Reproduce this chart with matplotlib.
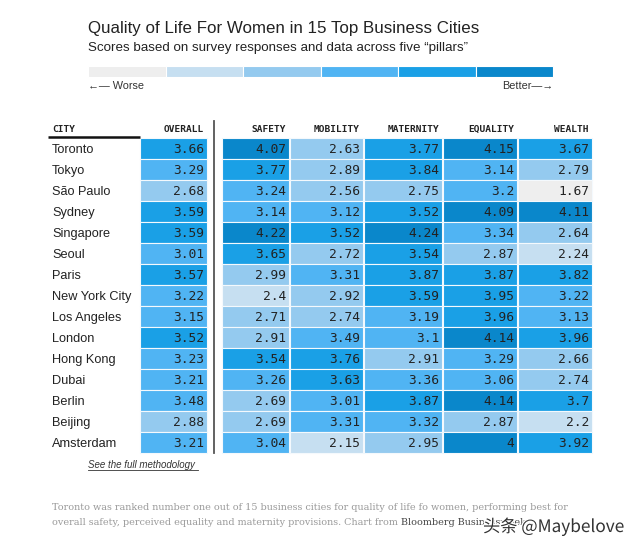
import matplotlib.pyplot as plt
from matplotlib.patches import Rectangle
import matplotlib.patheffects as pe

# Datos
cities = ["Toronto", "Tokyo", "São Paulo", "Sydney", "Singapore", "Seoul", "Paris",
          "New York City", "Los Angeles", "London", "Hong Kong", "Dubai", "Berlin",
          "Beijing", "Amsterdam"]
overall = [3.66, 3.29, 2.68, 3.59, 3.59, 3.01, 3.57, 3.22, 3.15, 3.52, 3.23, 3.21, 3.48, 2.88, 3.21]
safety = [4.07, 3.77, 3.24, 3.14, 4.22, 3.65, 2.99, 2.4, 2.71, 2.91, 3.54, 3.26, 2.69, 2.69, 3.04]
mobility = [2.63, 2.89, 2.56, 3.12, 3.52, 2.72, 3.31, 2.92, 2.74, 3.49, 3.76, 3.63, 3.01, 3.31, 2.15]
maternity = [3.77, 3.84, 2.75, 3.52, 4.24, 3.54, 3.87, 3.59, 3.19, 3.1, 2.91, 3.36, 3.87, 3.32, 2.95]
equality = [4.15, 3.14, 3.2, 4.09, 3.34, 2.87, 3.87, 3.95, 3.96, 4.14, 3.29, 3.06, 4.14, 2.87, 4]
wealth = [3.67, 2.79, 1.67, 4.11, 2.64, 2.24, 3.82, 3.22, 3.13, 3.96, 2.66, 2.74, 3.7, 2.2, 3.92]

headers = ["OVERALL", "SAFETY", "MOBILITY", "MATERNITY", "EQUALITY", "WEALTH"]
columns = [overall, safety, mobility, maternity, equality, wealth]

# escala de cores (6 faixas)
bins = [2.0, 2.5, 3.0, 3.5, 4.0]
palette = ["#eeeeee", "#c6dff1", "#94caef", "#50b4f3", "#1aa0e6", "#0a87cb"]

def color_for(v):
    k = 0
    for b in bins:
        if v >= b:
            k += 1
    return palette[k]

# Figura em coordenadas de pixel
fig = plt.figure(figsize=(6.4, 5.52), dpi=100)
ax = fig.add_axes([0, 0, 1, 1])
ax.set_xlim(0, 640)
ax.set_ylim(552, 0)
ax.axis('off')

sans = "Liberation Sans"
mono = "DejaVu Sans Mono"

ax.text(88, 33.5, "Quality of Life For Women in 15 Top Business Cities", fontsize=12.2,
        family=sans, color='#222222', va='baseline')
ax.text(88, 50.5, "Scores based on survey responses and data across five \u201cpillars\u201d",
        fontsize=9.6, family=sans, color='#222222', va='baseline')

# legenda
lx0, lx1 = 88, 553
w = (lx1 - lx0) / len(palette)
for i, c in enumerate(palette):
    ax.add_patch(Rectangle((lx0 + i * w, 66), w, 11, facecolor=c, edgecolor='white', lw=0.8))
ax.text(lx0, 89, "\u2190\u2014 Worse", fontsize=7.8, family=sans, color='#333333', va='baseline')
ax.text(lx1, 89, "Better\u2014\u2192", fontsize=7.8, family=sans, color='#333333', va='baseline',
        ha='right')

# tabela
col_edges = [(140, 207), (222, 289), (290, 363), (364, 442), (443, 517), (518, 592)]
top = 137.5
rh = 21

ax.text(52, 131.5, "CITY", fontsize=6.8, family=mono, fontweight='bold', color='#222222',
        va='baseline')
ax.plot([48, 140], [137, 137], color='#111111', lw=1.8, solid_capstyle='butt')
ax.plot([214, 214], [121, 453], color='#555555', lw=1.3)

for j, (name, vals) in enumerate(zip(headers, columns)):
    x0, x1 = col_edges[j]
    ax.text(x1 - 3, 131.5, name, fontsize=6.8, family=mono, fontweight='bold',
            color='#222222', va='baseline', ha='right')
    for i, v in enumerate(vals):
        y = top + i * rh
        ax.add_patch(Rectangle((x0, y), x1 - x0, rh, facecolor=color_for(v),
                               edgecolor='#f4f9fd', lw=0.8))
        ax.text(x1 - 3, y + rh / 2 + 4.8, f"{v:g}", fontsize=9.3, family=mono,
                color='#222222', va='baseline', ha='right')

for i, c in enumerate(cities):
    ax.text(52, top + i * rh + rh / 2 + 4.6, c, fontsize=9.2, family=sans,
            color='#222222', va='baseline')

ax.text(88, 467.5, "See the full methodology", fontsize=7, family=sans, style='italic',
        color='#333333', va='baseline')
ax.plot([88, 198], [469.5, 469.5], color='#333333', lw=0.6)

# rodapé
serif = "DejaVu Serif"
ax.text(52, 510, "Toronto was ranked number one out of 15 business cities for quality of life fo women, "
        "performing best for", fontsize=6.9, family=serif, color='#9a9a9a', va='baseline')
t2 = ax.text(52, 525, "overall safety, perceived equality and maternity provisions. Chart from",
             fontsize=6.9, family=serif, color='#9a9a9a', va='baseline')
ax.annotate("Bloomberg Businessweek.", xy=(1, 0), xycoords=t2, xytext=(2.5, 0),
            textcoords='offset points', fontsize=6.9, family=serif, color='#444444',
            va='bottom', ha='left')

# marca d'água
ax.text(483, 532, "头条 @Maybelove", fontsize=12.4, family=['Noto Sans CJK SC', 'DejaVu Sans'],
        color='#333333', va='baseline',
        path_effects=[pe.withStroke(linewidth=2, foreground='white')])

fig.savefig("out.png", dpi=100)
